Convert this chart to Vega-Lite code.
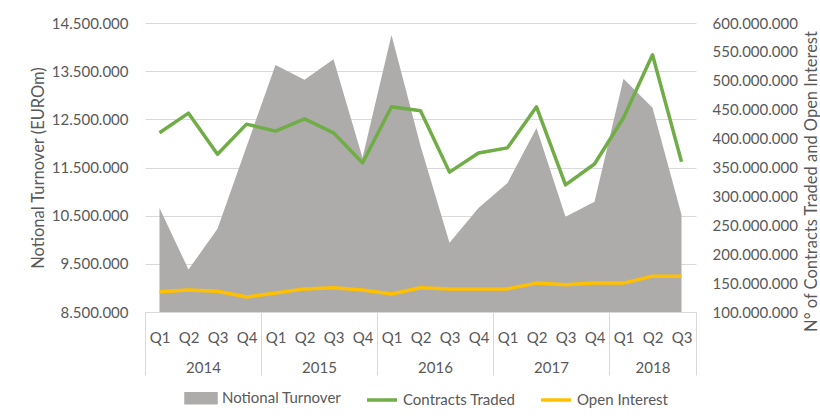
{
  "$schema": "https://vega.github.io/schema/vega-lite/v6.json",
  "width": 551,
  "height": 289,
  "autosize": {"type": "none"},
  "padding": {"left": 145, "top": 23, "right": 124, "bottom": 106},
  "background": "white",
  "data": {
    "values": [
      {"q": 0, "period": "2014 Q1", "Notional Turnover": 10660000, "Contracts Traded": 410000000, "Open Interest": 135000000},
      {"q": 1, "period": "2014 Q2", "Notional Turnover": 9380000, "Contracts Traded": 444000000, "Open Interest": 138000000},
      {"q": 2, "period": "2014 Q3", "Notional Turnover": 10230000, "Contracts Traded": 373000000, "Open Interest": 136000000},
      {"q": 3, "period": "2014 Q4", "Notional Turnover": 11930000, "Contracts Traded": 425000000, "Open Interest": 126000000},
      {"q": 4, "period": "2015 Q1", "Notional Turnover": 13630000, "Contracts Traded": 413000000, "Open Interest": 133000000},
      {"q": 5, "period": "2015 Q2", "Notional Turnover": 13320000, "Contracts Traded": 434000000, "Open Interest": 140000000},
      {"q": 6, "period": "2015 Q3", "Notional Turnover": 13750000, "Contracts Traded": 410000000, "Open Interest": 142000000},
      {"q": 7, "period": "2015 Q4", "Notional Turnover": 11700000, "Contracts Traded": 358000000, "Open Interest": 138000000},
      {"q": 8, "period": "2016 Q1", "Notional Turnover": 14250000, "Contracts Traded": 455000000, "Open Interest": 131000000},
      {"q": 9, "period": "2016 Q2", "Notional Turnover": 11950000, "Contracts Traded": 448000000, "Open Interest": 142000000},
      {"q": 10, "period": "2016 Q3", "Notional Turnover": 9940000, "Contracts Traded": 342000000, "Open Interest": 140000000},
      {"q": 11, "period": "2016 Q4", "Notional Turnover": 10660000, "Contracts Traded": 375000000, "Open Interest": 140000000},
      {"q": 12, "period": "2017 Q1", "Notional Turnover": 11180000, "Contracts Traded": 384000000, "Open Interest": 140000000},
      {"q": 13, "period": "2017 Q2", "Notional Turnover": 12320000, "Contracts Traded": 455000000, "Open Interest": 150000000},
      {"q": 14, "period": "2017 Q3", "Notional Turnover": 10480000, "Contracts Traded": 320000000, "Open Interest": 147000000},
      {"q": 15, "period": "2017 Q4", "Notional Turnover": 10790000, "Contracts Traded": 356000000, "Open Interest": 150000000},
      {"q": 16, "period": "2018 Q1", "Notional Turnover": 13340000, "Contracts Traded": 436000000, "Open Interest": 150000000},
      {"q": 17, "period": "2018 Q2", "Notional Turnover": 12740000, "Contracts Traded": 545000000, "Open Interest": 162000000},
      {"q": 18, "period": "2018 Q3", "Notional Turnover": 10520000, "Contracts Traded": 360000000, "Open Interest": 162000000}
    ]
  },
  "layer": [
    {
      "mark": {"type": "area", "opacity": 1, "fillOpacity": 1},
      "encoding": {
        "x": {
          "field": "q", "type": "quantitative",
          "scale": {"domain": [-0.5, 18.5], "nice": false, "zero": false},
          "axis": {
            "orient": "bottom",
            "values": [0, 1, 2, 3, 4, 5, 6, 7, 8, 9, 10, 11, 12, 13, 14, 15, 16, 17, 18],
            "labelExpr": "'Q' + (datum.value % 4 + 1)",
            "labelPadding": 18, "ticks": false, "domain": true, "domainColor": "#D9D9D9",
            "grid": false, "title": null, "labelFlush": false, "labelOverlap": false
          }
        },
        "y": {
          "field": "Notional Turnover", "type": "quantitative",
          "scale": {"domain": [8500000, 14500000], "zero": false, "nice": false},
          "axis": {
            "values": [8500000, 9500000, 10500000, 11500000, 12500000, 13500000, 14500000],
            "format": ",.0f", "grid": true, "gridColor": "#D9D9D9", "domain": false, "ticks": false,
            "labelPadding": 17, "title": "Notional Turnover (EUROm)", "titlePadding": 5
          }
        },
        "y2": {"datum": 8500000},
        "color": {
          "datum": "Notional Turnover",
          "scale": {"domain": ["Notional Turnover", "Contracts Traded", "Open Interest"], "range": ["#AEABAB", "#70AD47", "#FFC000"]},
          "legend": {
            "orient": "none", "legendX": 39, "legendY": 358, "direction": "horizontal", "title": null,
            "symbolSize": 900, "symbolStrokeWidth": 3.5, "labelOffset": 4, "columnPadding": 18,
            "encode": {
              "symbols": {
                "update": {
                  "shape": {"signal": "datum.value === 'Notional Turnover' ? 'M-1,-0.3H1V0.3H-1Z' : 'M-1,0H1'"},
                  "fill": {"signal": "datum.value === 'Notional Turnover' ? '#AEABAB' : 'transparent'"},
                  "stroke": {"signal": "datum.value === 'Notional Turnover' ? 'transparent' : (datum.value === 'Contracts Traded' ? '#70AD47' : '#FFC000')"},
                  "strokeWidth": {"value": 3.5},
                  "opacity": {"value": 1}
                }
              }
            }
          }
        }
      }
    },
    {
      "transform": [{"fold": ["Contracts Traded", "Open Interest"], "as": ["series", "value"]}],
      "mark": {"type": "line", "strokeWidth": 3.5, "strokeJoin": "round"},
      "encoding": {
        "x": {
          "field": "q", "type": "quantitative",
          "scale": {"domain": [-0.5, 18.5], "nice": false, "zero": false},
          "axis": {
            "orient": "bottom",
            "values": [1.5, 5.5, 9.5, 13.5, 17],
            "labelExpr": "'' + (floor(datum.value / 4) + 2014)",
            "labelPadding": 48, "ticks": false, "domain": false, "grid": false, "title": null,
            "labelFlush": false, "labelOverlap": false
          }
        },
        "y": {
          "field": "value", "type": "quantitative",
          "scale": {"domain": [100000000, 600000000], "zero": false, "nice": false},
          "axis": {
            "orient": "right",
            "values": [100000000, 150000000, 200000000, 250000000, 300000000, 350000000, 400000000, 450000000, 500000000, 550000000, 600000000],
            "format": ",.0f", "grid": false, "domain": false, "ticks": false, "labelPadding": 16,
            "title": "N° of Contracts Traded and Open Interest", "titleAngle": 270, "titleBaseline": "top",
            "titlePadding": 6, "titleY": 158
          }
        },
        "color": {
          "field": "series", "type": "nominal",
          "scale": {"domain": ["Notional Turnover", "Contracts Traded", "Open Interest"], "range": ["#AEABAB", "#70AD47", "#FFC000"]},
          "legend": {
            "orient": "none", "legendX": 39, "legendY": 358, "direction": "horizontal", "title": null,
            "symbolSize": 900, "symbolStrokeWidth": 3.5, "labelOffset": 4, "columnPadding": 18,
            "encode": {
              "symbols": {
                "update": {
                  "shape": {"signal": "datum.value === 'Notional Turnover' ? 'M-1,-0.3H1V0.3H-1Z' : 'M-1,0H1'"},
                  "fill": {"signal": "datum.value === 'Notional Turnover' ? '#AEABAB' : 'transparent'"},
                  "stroke": {"signal": "datum.value === 'Notional Turnover' ? 'transparent' : (datum.value === 'Contracts Traded' ? '#70AD47' : '#FFC000')"},
                  "strokeWidth": {"value": 3.5},
                  "opacity": {"value": 1}
                }
              }
            }
          }
        }
      }
    },
    {
      "mark": {"type": "rule", "opacity": 0},
      "encoding": {
        "x": {
          "field": "q", "type": "quantitative",
          "scale": {"domain": [-0.5, 18.5], "nice": false, "zero": false},
          "axis": {
            "orient": "bottom",
            "values": [-0.5, 3.5, 7.5, 11.5, 15.5, 18.5],
            "labels": false, "ticks": true, "tickSize": 63, "tickColor": "#D9D9D9", "tickWidth": 1,
            "domain": false, "grid": false, "title": null
          }
        }
      }
    }
  ],
  "resolve": {"scale": {"y": "independent"}, "axis": {"x": "independent"}},
  "config": {
    "locale": {"number": {"decimal": ",", "thousands": ".", "grouping": [3], "currency": ["", " €"]}},
    "font": "Lato",
    "view": {"stroke": null},
    "axis": {
      "labelFont": "Lato", "labelFontSize": 15, "labelColor": "#595959",
      "titleFont": "Lato", "titleFontSize": 16.5, "titleFontWeight": "normal", "titleColor": "#595959"
    },
    "legend": {"labelFont": "Lato", "labelFontSize": 15, "labelColor": "#595959"}
  }
}
